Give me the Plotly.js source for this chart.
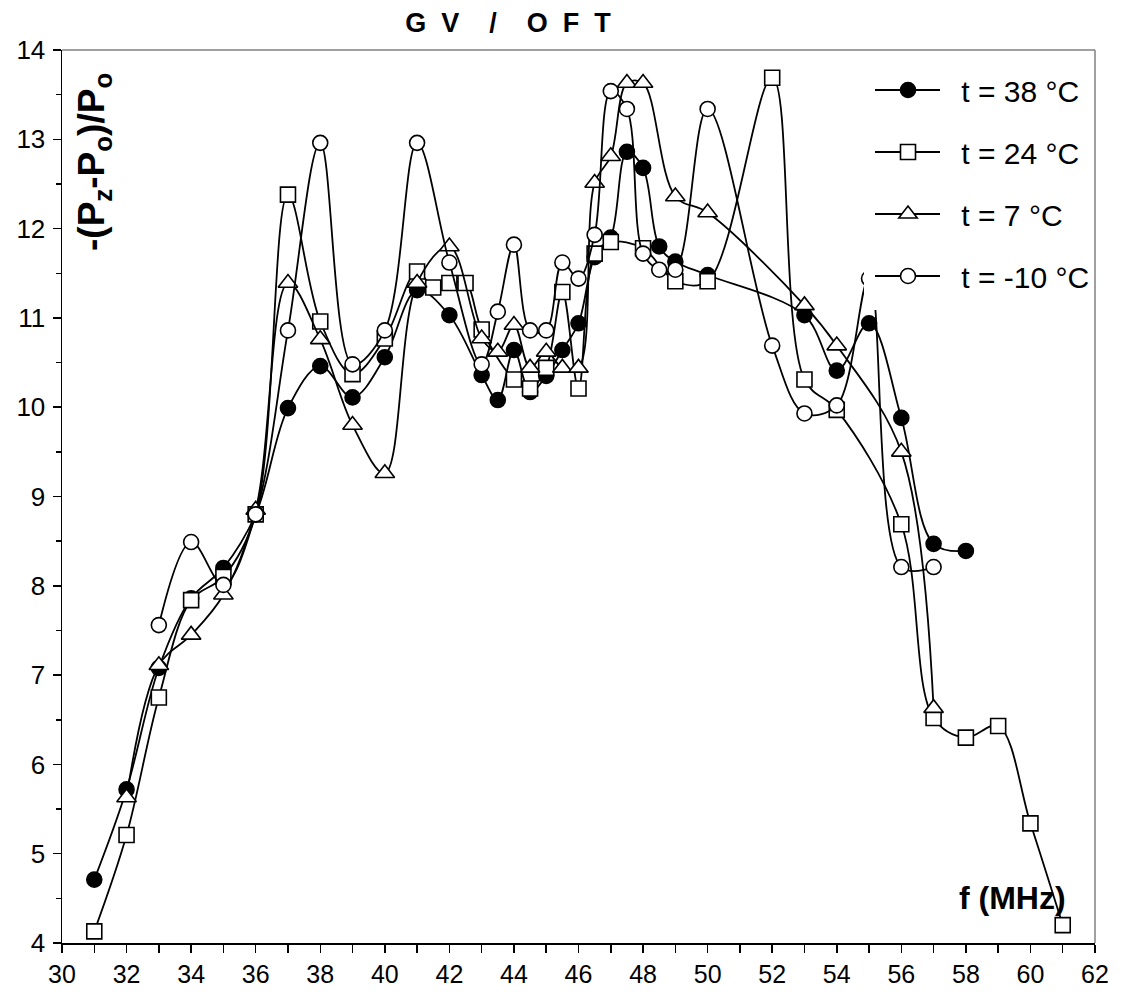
<!DOCTYPE html>
<html><head><meta charset="utf-8">
<script src="https://cdn.plot.ly/plotly-3.0.1.min.js"></script>
<style>html,body{margin:0;padding:0;background:#fff;}#chart{width:1128px;height:1008px;}</style>
</head><body><div id="chart"></div>
<script>
// t = 38 °C (filled circles)
const x38 = [31,32,33,34,35,36,37,38,39,40,41,42,43,43.5,44,44.5,45,45.5,46,46.5,47,47.5,48,48.5,49,50,53,54,55,56,57,58];
const y38 = [4.71,5.72,7.08,7.86,8.2,8.8,9.99,10.46,10.11,10.56,11.31,11.03,10.36,10.08,10.64,10.17,10.35,10.64,10.94,11.68,11.9,12.86,12.68,11.8,11.63,11.48,11.03,10.41,10.94,9.88,8.47,8.39];
// t = 24 °C (open squares)
const x24 = [31,32,33,34,35,36,37,38,39,40,41,41.5,42,42.5,43,44,44.5,45,45.5,46,46.5,47,48,49,50,52,53,54,56,57,58,59,60,61];
const y24 = [4.13,5.21,6.75,7.84,8.1,8.8,12.38,10.96,10.37,10.77,11.52,11.34,11.39,11.39,10.87,10.31,10.21,10.44,11.29,10.21,11.72,11.85,11.78,11.41,11.41,13.69,10.31,9.97,8.69,6.52,6.3,6.43,5.34,4.2];
// t = 7 °C (open triangles)
const x7 = [32,33,34,35,36,37,38,39,40,41,42,43,43.5,44,44.5,45,45.5,46,46.5,47,47.5,48,49,50,53,54,56,57];
const y7 = [5.63,7.11,7.45,7.9,8.85,11.39,10.76,9.8,9.26,11.39,11.8,10.77,10.62,10.92,10.44,10.62,10.44,10.44,12.51,12.81,13.63,13.63,12.36,12.18,11.14,10.69,9.5,6.63];
// t = -10 °C (open circles)
const xm10 = [33,34,35,36,37,38,39,40,41,42,43,43.5,44,44.5,45,45.5,46,46.5,47,47.5,48,48.5,49,50,52,53,54,55,56,57];
const ym10 = [7.56,8.49,8.01,8.8,10.86,12.96,10.48,10.86,12.96,11.62,10.48,11.07,11.82,10.86,10.86,11.62,11.44,11.93,13.54,13.34,11.72,11.54,11.54,13.34,10.69,9.93,10.02,11.44,8.21,8.21];

const names = ['t = 38 °C','t = 24 °C','t = 7 °C','t = -10 °C'];
const xs = [x38,x24,x7,xm10];
const ys = [y38,y24,y7,ym10];
const symbols = ['circle','square','triangle-up','circle'];
const fills = ['#000000','#ffffff','#ffffff','#ffffff'];
const sizes = [15,15,17,15];

const traces = names.map((n,i)=>({
  x: xs[i], y: ys[i], name: '\u00a0\u00a0\u00a0\u00a0' + n, type:'scatter', mode:'lines+markers',
  legendgroup: 'g'+i,
  line:{color:'#000', width:1.8, shape:'spline', smoothing:1},
  marker:{symbol:symbols[i], size:sizes[i], color:fills[i], line:{color:'#000', width:1.6}}
}));

// plot area in pixels
const L = 62, R = 1095, T = 50, B = 943;
const px2x = p => (p - L) / (R - L);
const px2y = p => (B - p) / (B - T);

const legendRows = [90, 152, 214, 276];
const shapes = [
  {type:'rect', xref:'paper', yref:'paper', x0:px2x(864), x1:1, y0:px2y(310), y1:px2y(58),
   fillcolor:'#fff', line:{width:0}, layer:'above'}
];
legendRows.forEach(r => shapes.push({type:'line', xref:'paper', yref:'paper', x0:px2x(875), x1:px2x(940),
   y0:px2y(r), y1:px2y(r), line:{color:'#000', width:1.8}, layer:'above'}));
shapes.push({type:'line', xref:'paper', yref:'paper', x0:0, x1:1, y0:1, y1:1, line:{color:'#808080', width:1.5}, layer:'above'});
shapes.push({type:'line', xref:'paper', yref:'paper', x0:1, x1:1, y0:0, y1:1, line:{color:'#808080', width:1.5}, layer:'above'});

const layout = {
  width:1128, height:1008,
  margin:{l:L, r:1128-R, t:T, b:1008-B},
  paper_bgcolor:'#fff', plot_bgcolor:'#fff',
  font:{family:'"Liberation Sans", Arial, sans-serif', color:'#000', size:25},
  title:{text:'<b>G&nbsp;&nbsp;V&nbsp;&nbsp;&nbsp;&nbsp;/&nbsp;&nbsp;&nbsp;&nbsp;O&nbsp;&nbsp;F&nbsp;&nbsp;T</b>', font:{size:27}, x:508/1128, xanchor:'center', y:0.978, yanchor:'middle'},
  showlegend:true,
  legend:{x:px2x(888), xanchor:'left', y:px2y(64), yanchor:'top', bgcolor:'rgba(0,0,0,0)', borderwidth:0,
          font:{size:30}, traceorder:'grouped', tracegroupgap:20},
  xaxis:{range:[30,62], dtick:2, tick0:30, showgrid:false, zeroline:false,
         showline:true, linecolor:'#000', linewidth:1.5,
         ticks:'outside', ticklen:8, tickwidth:1.5, tickcolor:'#000',
         tickfont:{size:25},
         minor:{dtick:1, ticks:'outside', ticklen:8, tickwidth:1.5, tickcolor:'#000', showgrid:false}},
  yaxis:{range:[4,14], dtick:1, showgrid:false, zeroline:false,
         showline:true, linecolor:'#000', linewidth:1.5,
         ticks:'outside', ticklen:8, tickwidth:1.5, tickcolor:'#000',
         tickfont:{size:26}, ticklabelstandoff:2,
         minor:{dtick:0.5, ticks:'outside', ticklen:5, tickwidth:1.5, tickcolor:'#000', showgrid:false}},
  shapes: shapes,
  annotations:[
    {text:'<b>-(P<sub>z</sub>-P<sub>o</sub>)/P<sub>o</sub></b>', xref:'paper', yref:'paper', x:px2x(94), y:px2y(162),
     textangle:-90, showarrow:false, font:{size:37}, xanchor:'center', yanchor:'middle'},
    {text:'<b>f (MHz)</b>', xref:'paper', yref:'paper', x:px2x(1012), y:px2y(898), showarrow:false,
     font:{size:32}, xanchor:'center', yanchor:'middle'}
  ]
};
Plotly.newPlot('chart', traces, layout, {displayModeBar:false, staticPlot:true});
</script></body></html>
